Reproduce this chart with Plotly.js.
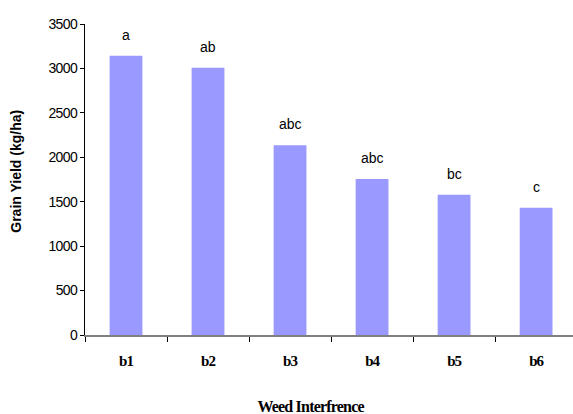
<!DOCTYPE html>
<html>
<head>
<meta charset="utf-8">
<script src="https://cdn.plot.ly/plotly-3.0.1.min.js"></script>
<style>
  html, body { margin: 0; padding: 0; background: #fff; overflow: hidden; }
  #chart { width: 573px; height: 414px; }
  /* tighter serif lettering on the category axis */
  #chart .xtick text { letter-spacing: -1px; }
  #chart .ytick text { letter-spacing: -0.6px; }
  #chart .annotation.x-title text { letter-spacing: -0.8px; }
</style>
</head>
<body>
<div id="chart"></div>
<script>
// Grain yield under six weed interference treatments
const treatments = ["b1", "b2", "b3", "b4", "b5", "b6"];
const grainYield = [3142, 3008, 2136, 1756, 1577, 1431];
const groupLetters = ["a", "ab", "abc", "abc", "bc", "c"];

const barTrace = {
  type: "bar",
  x: treatments,
  y: grainYield,
  width: 0.4,
  marker: { color: "#9999FF", line: { width: 0 } },
  hoverinfo: "x+y"
};

// Significance letters placed above each bar
const letterNotes = treatments.map((t, i) => ({
  x: t,
  y: grainYield[i],
  xref: "x",
  yref: "y",
  text: groupLetters[i],
  showarrow: false,
  yanchor: "middle",
  yshift: 21,
  font: { family: "Liberation Sans, Arial, sans-serif", size: 14, color: "#000" }
}));

const layout = {
  width: 573,
  height: 414,
  margin: { l: 85, r: 0, t: 23.5, b: 79 },
  paper_bgcolor: "#fff",
  plot_bgcolor: "#fff",
  showlegend: false,
  xaxis: {
    type: "category",
    range: [-0.5, 5.45],
    tickson: "boundaries",
    ticks: "outside",
    ticklen: 5,
    tickwidth: 1,
    tickcolor: "#000",
    showline: true,
    linecolor: "#808080",
    linewidth: 2,
    showgrid: false,
    zeroline: false,
    ticklabelstandoff: 11,
    tickfont: { family: "Liberation Serif, Times New Roman, serif", size: 15, color: "#000", weight: "bold" }
  },
  yaxis: {
    range: [0, 3500],
    dtick: 500,
    tick0: 0,
    ticks: "outside",
    ticklen: 4,
    tickwidth: 1,
    tickcolor: "#000",
    showline: true,
    linecolor: "#000",
    linewidth: 1,
    showgrid: false,
    zeroline: false,
    tickfont: { family: "Liberation Sans, Arial, sans-serif", size: 14, color: "#000" }
  },
  annotations: letterNotes.concat([
    {
      text: "Grain Yield (kg/ha)",
      xref: "paper", yref: "paper",
      x: 0, y: 0.525,
      xshift: -69,
      textangle: -90,
      showarrow: false,
      xanchor: "center", yanchor: "middle",
      font: { family: "Liberation Sans, Arial, sans-serif", size: 14, color: "#000", weight: "bold" }
    },
    {
      text: "Weed Interfrence",
      xref: "paper", yref: "paper",
      x: 0.463, y: 0,
      yshift: -71,
      showarrow: false,
      xanchor: "center", yanchor: "middle",
      font: { family: "Liberation Serif, Times New Roman, serif", size: 16, color: "#000", weight: "bold" }
    }
  ])
};

Plotly.newPlot("chart", [barTrace], layout, { displayModeBar: false, staticPlot: true }).then(gd => {
  // tag the axis-title annotation so its lettering can be tightened
  const notes = gd.querySelectorAll(".annotation");
  if (notes.length) notes[notes.length - 1].classList.add("x-title");
});
</script>
</body>
</html>
